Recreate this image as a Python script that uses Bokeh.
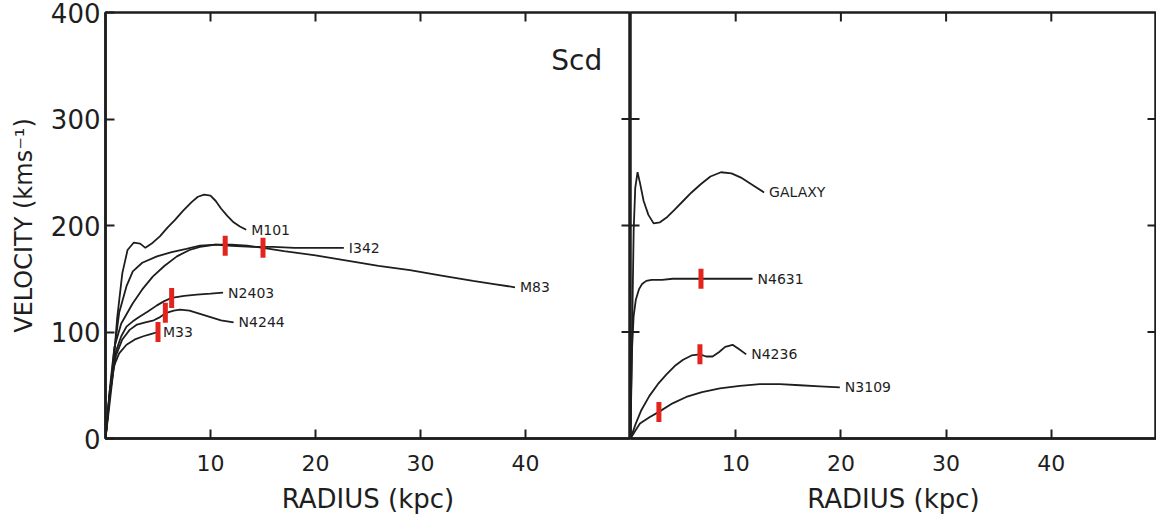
import math

from bokeh.plotting import figure
from bokeh.layouts import row
from bokeh.models import Range1d, LinearAxis, FixedTicker, Label
from bokeh.core.properties import value
from bokeh.embed import file_html
from bokeh.resources import INLINE

# ---- Rotation curves, Scd galaxies: radius (kpc) vs circular velocity (km/s) ----

# left panel
m101_r = [0, 0.3, 0.65, 1.1, 1.6, 2.1, 2.7, 3.3, 3.8, 4.4, 5.2, 5.9, 6.6, 7.4, 8.2, 8.8, 9.4, 10.0, 10.5, 11.0, 11.6, 12.2, 12.8, 13.4]
m101_v = [0, 25, 55, 112, 155, 177, 184, 183, 179, 183, 190, 198, 205, 214, 222, 227, 229, 228, 223, 216, 209, 203, 199, 196]

i342_r = [0, 0.4, 0.8, 1.3, 2.0, 2.6, 3.5, 4.9, 6.3, 7.7, 9.0, 10.5, 12.0, 14.0, 16.0, 18.0, 20.0, 22.7]
i342_v = [0, 40, 80, 118, 143, 157, 165, 171, 175, 178, 181, 182, 181, 180, 180, 179, 179, 179]

m83_r = [0, 0.5, 0.85, 1.5, 2.6, 3.5, 4.5, 5.6, 6.8, 8.0, 9.0, 10.5, 12.0, 13.5, 15.0, 17.0, 20.0, 23.0, 26.0, 29.0, 32.0, 35.0, 37.0, 39.0]
m83_v = [0, 55, 86, 108, 127, 140, 152, 162, 171, 177, 180, 182, 182, 181, 179, 176, 172, 167, 162, 158, 153, 148, 145, 142]

n2403_r = [0, 0.4, 1.0, 1.5, 2.0, 2.6, 3.2, 4.0, 4.9, 5.6, 6.3, 7.5, 8.7, 10.0, 11.2]
n2403_v = [0, 45, 82, 96, 105, 110, 114, 119, 125, 129, 132, 134, 135, 136, 137]

n4244_r = [0, 0.4, 1.0, 1.6, 2.3, 3.0, 3.8, 4.6, 5.2, 5.8, 6.5, 7.1, 8.0, 9.0, 10.0, 11.0, 12.2]
n4244_v = [0, 42, 78, 93, 102, 107, 109, 111, 114, 118, 120, 121, 120, 117, 114, 111, 109]

m33_r = [0, 0.4, 0.8, 1.3, 2.0, 2.8, 3.6, 4.3, 5.0]
m33_v = [0, 40, 68, 80, 88, 93, 96, 98, 100]

# right panel
galaxy_r = [0, 0.1, 0.2, 0.3, 0.45, 0.67, 0.9, 1.25, 1.7, 2.2, 2.8, 3.5, 4.2, 5.0, 5.8, 6.7, 7.6, 8.6, 9.6, 10.5, 11.6, 12.7]
galaxy_v = [0, 60, 130, 195, 235, 250, 240, 223, 210, 202, 203, 208, 215, 223, 231, 239, 246, 250, 249, 245, 238, 231]

n4631_r = [0, 0.05, 0.15, 0.3, 0.5, 0.8, 1.1, 1.5, 2.0, 3.0, 4.0, 5.0, 6.7, 8.0, 10.0, 11.6]
n4631_v = [0, 40, 85, 115, 130, 140, 145, 148, 149, 149, 150, 150, 150, 150, 150, 150]

n4236_r = [0, 0.5, 1.0, 1.8, 2.6, 3.4, 4.2, 5.0, 5.8, 6.6, 7.2, 7.8, 8.4, 9.0, 9.7, 10.3, 11.0]
n4236_v = [0, 14, 26, 40, 51, 60, 68, 74, 78, 79, 77, 77, 81, 86, 88, 84, 79]

n3109_r = [0, 0.5, 0.9, 1.8, 2.7, 4.0, 5.3, 6.8, 8.5, 10.4, 12.3, 14.2, 16.1, 18.0, 19.9]
n3109_v = [0, 8, 14, 20, 25, 33, 39, 43.5, 47, 49.5, 51, 51, 50, 49, 48]

# red markers on the curves (left panel / right panel)
marks_left_r = [11.4, 15.0, 6.3, 5.7, 5.0]
marks_left_v = [181, 179, 132, 118, 100]
marks_right_r = [6.7, 6.6, 2.7]
marks_right_v = [150, 79, 25]

left_names = ["M101", "I342", "M83", "N2403", "N4244", "M33"]
right_names = ["GALAXY", "N4631", "N4236", "N3109"]

x_ticks = [10, 20, 30, 40]
y_ticks = [0, 100, 200, 300, 400]

X_MAX = 50
Y_MAX = 400

FONT = "DejaVu Sans"
INK = "#1e1e1e"
RED = "#e3241d"

y_range = Range1d(0, Y_MAX)


def style_axis(ax, ticks):
    ax.ticker = FixedTicker(ticks=ticks)
    ax.axis_line_width = 2.5
    ax.axis_line_color = INK
    ax.major_tick_in = 9
    ax.major_tick_out = 0
    ax.major_tick_line_width = 2
    ax.major_tick_line_color = INK
    ax.minor_tick_line_color = None
    ax.major_label_text_font = FONT
    ax.major_label_text_color = INK
    ax.axis_label_text_font = FONT
    ax.axis_label_text_font_style = "normal"
    ax.axis_label_text_color = INK
    return ax


def edge_ticks(p, xs, ys, angle):
    # short inward ticks on the unlabeled frame edges; the frame clips the outer half
    p.scatter(xs, ys, marker="dash", size=18, angle=angle,
              line_color=INK, line_width=2)


def panel(width, border_left, curves, names, mrk_r, mrk_v, y_labelled):
    p = figure(width=width, height=520, x_range=Range1d(0, X_MAX), y_range=y_range,
               output_backend="svg", toolbar_location=None,
               x_axis_location=None, y_axis_location=None,
               min_border_left=border_left, min_border_right=0,
               min_border_top=12, min_border_bottom=82)
    p.grid.visible = False
    p.outline_line_color = INK
    p.outline_line_width = 2.5
    p.background_fill_color = "white"
    p.border_fill_color = "white"

    bottom = style_axis(LinearAxis(), x_ticks)
    bottom.major_label_text_font_size = "22px"
    bottom.major_label_standoff = 16
    bottom.axis_label = "RADIUS (kpc)"
    bottom.axis_label_text_font_size = "26px"
    bottom.axis_label_standoff = 10
    p.add_layout(bottom, "below")

    inner_y = [t for t in y_ticks if 0 < t < Y_MAX]
    if y_labelled:
        left = style_axis(LinearAxis(), y_ticks)
        left.major_label_text_font_size = "26px"
        left.major_label_standoff = 5
        left.axis_label = "VELOCITY (kms\u207b\u00b9)"
        left.axis_label_text_font_size = "24px"
        left.axis_label_standoff = 10
        p.add_layout(left, "left")
    else:
        edge_ticks(p, [0] * len(inner_y), inner_y, 0)

    edge_ticks(p, [X_MAX] * len(inner_y), inner_y, 0)
    edge_ticks(p, x_ticks, [Y_MAX] * len(x_ticks), math.pi / 2)

    for (r, v), name in zip(curves, names):
        p.line(r, v, line_color=INK, line_width=1.8)
        p.text(x=[r[-1]], y=[v[-1]], text=[name], x_offset=5,
               text_font=value(FONT), text_font_size="14px",
               text_color=INK, text_align="left", text_baseline="middle")

    p.rect(x=mrk_r, y=mrk_v, width=5, height=20,
           width_units="screen", height_units="screen",
           fill_color=RED, line_color=None)
    return p


left_curves = [(m101_r, m101_v), (i342_r, i342_v), (m83_r, m83_v),
               (n2403_r, n2403_v), (n4244_r, n4244_v), (m33_r, m33_v)]
right_curves = [(galaxy_r, galaxy_v), (n4631_r, n4631_v),
                (n4236_r, n4236_v), (n3109_r, n3109_v)]

p1 = panel(630, 105, left_curves, left_names, marks_left_r, marks_left_v, True)
p1.add_layout(Label(x=47.3, y=355, text="Scd", text_font=FONT,
                    text_font_size="28px", text_color=INK,
                    text_align="right", text_baseline="middle"))

p2 = panel(526, 0, right_curves, right_names, marks_right_r, marks_right_v, False)

layout = row(p1, p2, spacing=0)

open("out.html", "w").write(file_html(layout, INLINE))
